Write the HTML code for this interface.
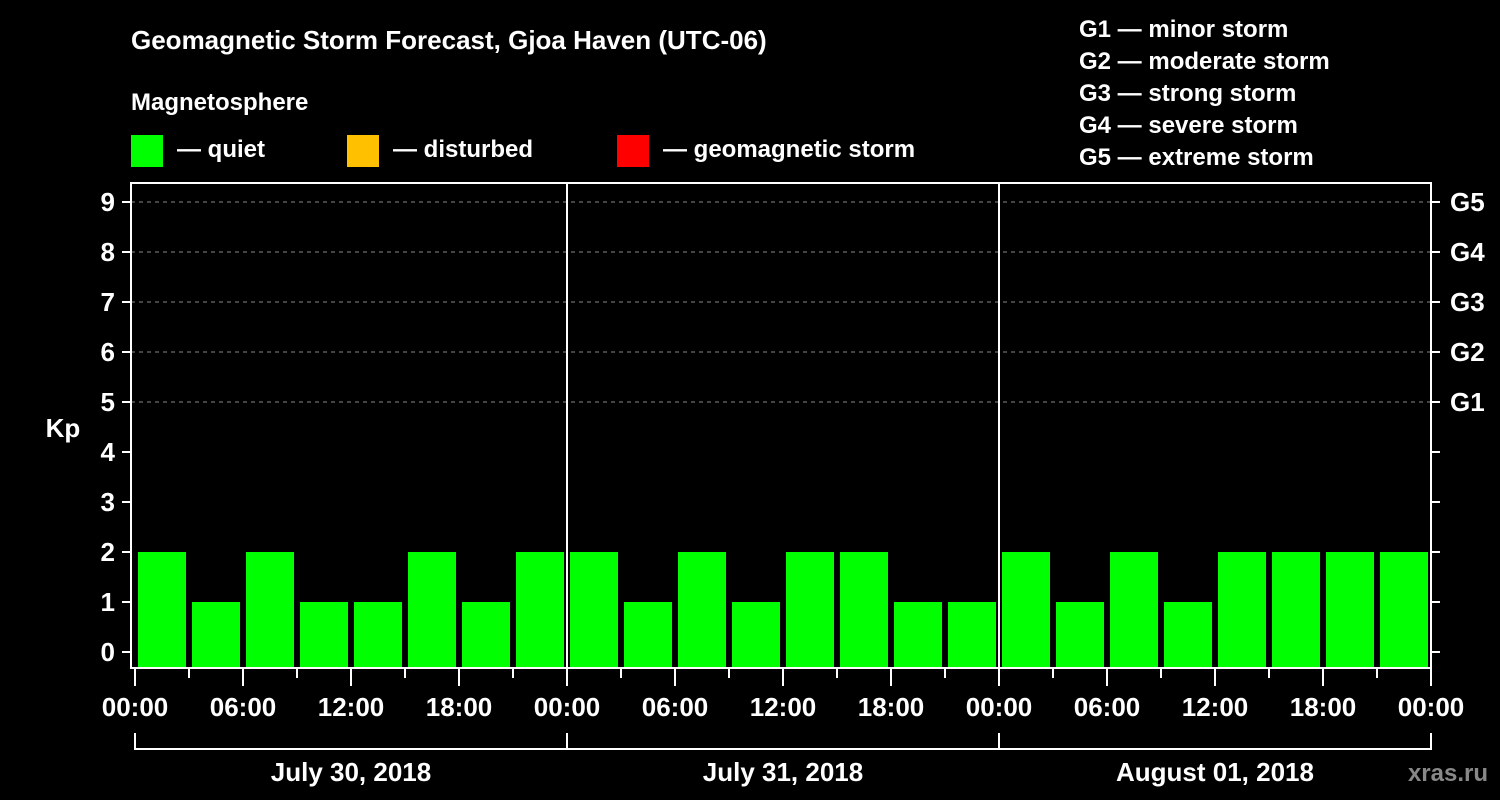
<!DOCTYPE html>
<html><head><meta charset="utf-8"><style>
html,body{margin:0;padding:0;background:#000;}
svg{display:block;font-family:"Liberation Sans",Arial,sans-serif;font-weight:bold;}
</style></head><body>
<svg id="chart" width="1500" height="800" viewBox="0 0 1500 800">
<rect x="0" y="0" width="1500" height="800" fill="#000"/>
<text x="131" y="49" font-size="26" fill="#fff">Geomagnetic Storm Forecast, Gjoa Haven (UTC-06)</text>
<text x="131" y="110" font-size="24" fill="#fff">Magnetosphere</text>
<g><rect x="131" y="135" width="32" height="32" fill="#00ff00"/><text x="177" y="157" font-size="24" fill="#fff">— quiet</text></g>
<g><rect x="347" y="135" width="32" height="32" fill="#ffc000"/><text x="393" y="157" font-size="24" fill="#fff">— disturbed</text></g>
<g><rect x="617" y="135" width="32" height="32" fill="#ff0000"/><text x="663" y="157" font-size="24" fill="#fff">— geomagnetic storm</text></g>
<g font-size="24" fill="#fff">
<text x="1079" y="37">G1 — minor storm</text>
<text x="1079" y="69">G2 — moderate storm</text>
<text x="1079" y="101">G3 — strong storm</text>
<text x="1079" y="133">G4 — severe storm</text>
<text x="1079" y="165">G5 — extreme storm</text>
</g>
<text x="63" y="437" font-size="26" fill="#fff" text-anchor="middle">Kp</text>
<g id="grid"></g>
<g id="bars"></g>
<g id="axes"></g>
<text x="1488" y="781" font-size="24" fill="#888" text-anchor="end">xras.ru</text>
</svg>
<script>
const days = ["July 30, 2018","July 31, 2018","August 01, 2018"];
const kpValues = [2,1,2,1,1,2,1,2, 2,1,2,1,2,2,1,1, 2,1,2,1,2,2,2,2];
const yTicks = [0,1,2,3,4,5,6,7,8,9];
const gLabels = ["G1","G2","G3","G4","G5"];
const hourLabels = ["00:00","06:00","12:00","18:00"];

const NS="http://www.w3.org/2000/svg";
const X0=135, PXH=18, Y0=652, PXK=50, TOP=183, BOT=668, RIGHT=1431;
const xs=h=>X0+h*PXH;
const ys=k=>Y0-k*PXK;
function mk(tag,attrs,parent){const e=document.createElementNS(NS,tag);for(const k in attrs)e.setAttribute(k,attrs[k]);parent.appendChild(e);return e;}
const grid=document.getElementById('grid'),bars=document.getElementById('bars'),axes=document.getElementById('axes');

yTicks.forEach(k=>{
  if(k>=5){const l=mk('line',{x1:131,x2:RIGHT,y1:ys(k),y2:ys(k),stroke:'#888','stroke-width':1,'stroke-dasharray':'4,4'},grid);
  
  }
  const t=mk('line',{x1:122,x2:131,y1:ys(k),y2:ys(k),stroke:'#fff','stroke-width':2},axes);
  
  
  const tr=mk('line',{x1:RIGHT,x2:1440,y1:ys(k),y2:ys(k),stroke:'#fff','stroke-width':2},axes);
  
  
  const lb=mk('text',{x:115,y:ys(k)+9,'font-size':26,fill:'#fff','text-anchor':'end'},axes);
  lb.textContent=k;
  
  
});
gLabels.forEach((g,i)=>{
  const lb=mk('text',{x:1450,y:ys(5+i)+9,'font-size':26,fill:'#fff'},axes);
  lb.textContent=g;
  
  
});

kpValues.forEach((v,i)=>{
  const b=mk('rect',{x:xs(i*3)+3,y:ys(v),width:3*PXH-6,height:BOT-1-ys(v),fill:'#00ff00'},bars);
  
  
});

const fr=mk('rect',{x:131,y:TOP,width:RIGHT-131,height:BOT-TOP,fill:'none',stroke:'#fff','stroke-width':2},axes);


for(let d=1;d<days.length;d++){
  const l=mk('line',{x1:xs(d*24),x2:xs(d*24),y1:TOP,y2:BOT,stroke:'#fff','stroke-width':2},axes);
  
  
}
for(let h=0;h<=days.length*24;h+=3){
  const major=h%6===0;
  const t=mk('line',{x1:xs(h),x2:xs(h),y1:BOT,y2:major?686:678,stroke:'#fff','stroke-width':2},axes);
  
  
  if(major){
    const lb=mk('text',{x:xs(h),y:716,'font-size':26,fill:'#fff','text-anchor':'middle'},axes);
    lb.textContent=hourLabels[(h/6)%4];
    
    
  }
}
days.forEach((d,i)=>{
  const a=xs(i*24),b=xs((i+1)*24);
  const p=mk('path',{d:`M${a},733V749H${b}V733`,fill:'none',stroke:'#fff','stroke-width':2},axes);
  
  
  const lb=mk('text',{x:(a+b)/2,y:781,'font-size':26,fill:'#fff','text-anchor':'middle'},axes);
  lb.textContent=d;
  
  
});
</script>
</body></html>
